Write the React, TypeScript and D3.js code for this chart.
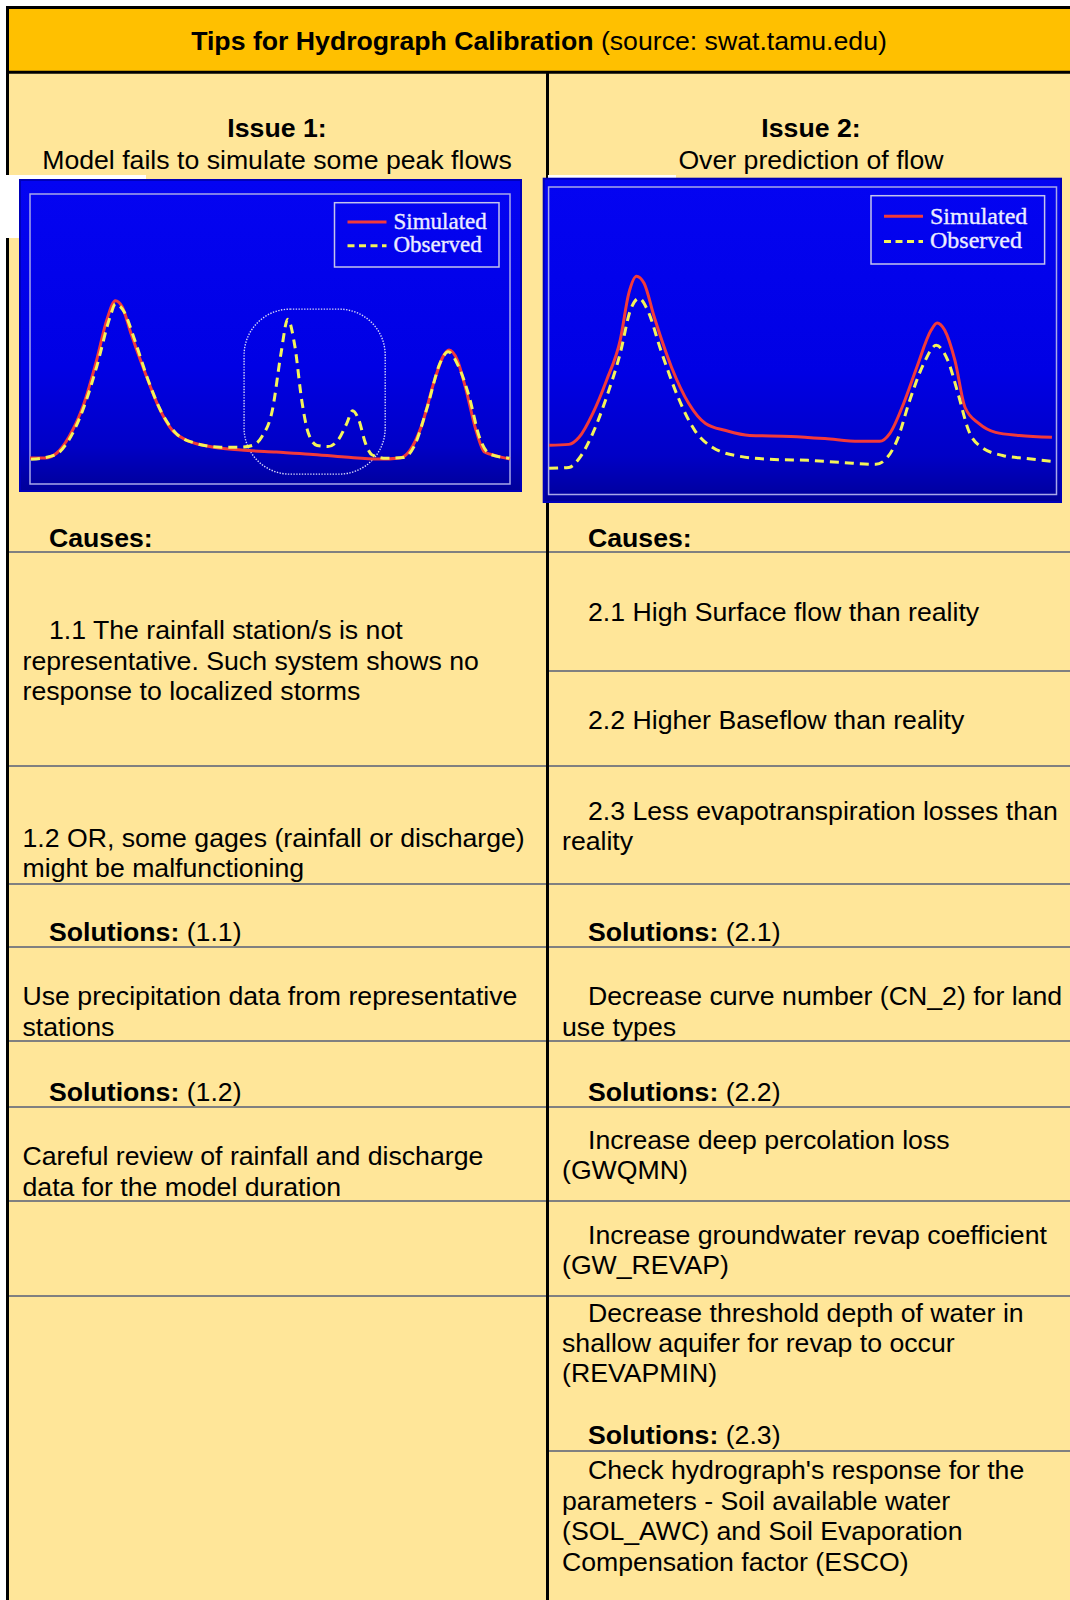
import React from "react";
import * as d3 from "d3";

// ---------- DATA ----------
// Issue 1 hydrograph (time 0-100, flow 0-100)
const issue1SimDay = [0, 3.1, 5.6, 8.1, 11.0, 13.9, 16.0, 17.8, 19.2, 21.0, 24.0, 26.8, 29.6, 32.5, 36.9, 44.0, 51.3, 58.3, 65.6, 72.7, 77.1, 79.2, 81.5, 84.3, 86.0, 87.3, 89.0, 90.7, 92.9, 94.7, 97.2, 100];
const issue1SimFlow = [9.0, 9.0, 10.7, 16.2, 26.6, 42.8, 56.6, 63.2, 61.1, 52.1, 38.3, 26.6, 18.6, 15.2, 13.1, 11.7, 11.0, 10.3, 9.3, 8.6, 9.0, 11.7, 19.7, 35.9, 43.8, 46.2, 42.8, 33.4, 18.6, 11.0, 9.7, 8.6];
const issue1ObsDay = [0.2, 5.2, 8.1, 11.0, 13.9, 16.7, 17.8, 19.6, 21.8, 24.6, 27.5, 30.4, 34.0, 39.7, 44.0, 46.5, 48.3, 50.5, 52.3, 53.7, 55.2, 56.6, 58.0, 59.8, 62.0, 64.2, 66.0, 67.2, 68.5, 69.9, 71.3, 74.2, 77.8, 80.0, 82.8, 85.4, 87.1, 89.3, 91.5, 93.6, 95.8, 99.9];
const issue1ObsFlow = [8.5, 10.0, 15.2, 25.5, 40.5, 57.7, 62.1, 59.4, 49.7, 35.9, 24.4, 17.5, 14.3, 12.7, 12.7, 13.4, 16.3, 25.5, 45.1, 56.8, 47.3, 29.0, 17.5, 13.3, 12.9, 15.2, 20.9, 25.3, 22.1, 14.0, 10.0, 8.9, 9.1, 12.9, 26.7, 41.6, 45.6, 40.5, 30.1, 16.3, 10.3, 8.9];

// Issue 2 hydrograph
const issue2SimDay = [0.1, 4.0, 6.0, 8.7, 11.4, 14.1, 15.8, 17.3, 18.8, 20.8, 24.2, 27.6, 30.9, 34.9, 39.6, 47.7, 54.4, 61.1, 65.2, 67.2, 69.9, 72.5, 75.3, 76.5, 78.0, 80.0, 82.0, 84.7, 88.0, 92.7, 99.1];
const issue2SimFlow = [16.0, 16.3, 18.6, 26.4, 37.1, 50.2, 65.5, 71.0, 68.7, 57.7, 41.4, 29.6, 23.1, 20.8, 19.2, 18.9, 18.2, 17.3, 17.3, 19.9, 29.6, 41.4, 53.4, 55.8, 53.4, 43.6, 28.3, 23.1, 20.2, 19.2, 18.6];
const issue2ObsDay = [0.1, 4.0, 6.0, 8.7, 11.4, 14.1, 16.1, 17.8, 19.5, 22.1, 25.5, 28.8, 32.3, 37.7, 44.4, 51.1, 57.8, 64.4, 66.5, 68.6, 71.1, 73.9, 76.3, 78.6, 80.6, 82.7, 85.3, 89.4, 94.1, 99.1];
const issue2ObsFlow = [8.5, 8.8, 11.7, 19.9, 31.6, 45.9, 59.9, 63.8, 59.9, 46.9, 31.6, 20.8, 15.3, 12.4, 11.4, 11.1, 10.4, 9.8, 11.7, 17.6, 30.6, 42.7, 48.5, 43.6, 32.9, 20.8, 15.3, 12.7, 11.7, 10.8];

// Highlight region for missed peaks (time/flow units)
const missedPeakDays = [44.6, 74.0];
const missedPeakFlows = [3.4, 60.3];

const legendLabels = ["Simulated", "Observed"];

// ---------- TEXT ----------
const titleBold = "Tips for Hydrograph Calibration";
const titleRest = " (source: swat.tamu.edu)";
const issueTitles = ["Issue 1:", "Issue 2:"];
const issueSubtitles = ["Model fails to simulate some peak flows", "Over prediction of flow"];

type Line = { t: string; indent: boolean; y: number; bold?: string };
const leftLines: Line[] = [
  { t: "", bold: "Causes:", indent: true, y: 547 },
  { t: "1.1 The rainfall station/s is not", indent: true, y: 638.5 },
  { t: "representative. Such system shows no", indent: false, y: 669.5 },
  { t: "response to localized storms", indent: false, y: 699.5 },
  { t: "1.2 OR, some gages (rainfall or discharge)", indent: false, y: 847 },
  { t: "might be malfunctioning", indent: false, y: 877 },
  { t: " (1.1)", bold: "Solutions:", indent: true, y: 941 },
  { t: "Use precipitation data from representative", indent: false, y: 1004.5 },
  { t: "stations", indent: false, y: 1035.5 },
  { t: " (1.2)", bold: "Solutions:", indent: true, y: 1101 },
  { t: "Careful review of rainfall and discharge", indent: false, y: 1164.5 },
  { t: "data for the model duration", indent: false, y: 1195.5 },
];
const rightLines: Line[] = [
  { t: "", bold: "Causes:", indent: true, y: 547 },
  { t: "2.1 High Surface flow than reality", indent: true, y: 621 },
  { t: "2.2 Higher Baseflow than reality", indent: true, y: 728.5 },
  { t: "2.3 Less evapotranspiration losses than", indent: true, y: 819.5 },
  { t: "reality", indent: false, y: 849.5 },
  { t: " (2.1)", bold: "Solutions:", indent: true, y: 941 },
  { t: "Decrease curve number (CN_2) for land", indent: true, y: 1004.5 },
  { t: "use types", indent: false, y: 1035.5 },
  { t: " (2.2)", bold: "Solutions:", indent: true, y: 1101 },
  { t: "Increase deep percolation loss", indent: true, y: 1148.5 },
  { t: "(GWQMN)", indent: false, y: 1178.5 },
  { t: "Increase groundwater revap coefficient", indent: true, y: 1243.5 },
  { t: "(GW_REVAP)", indent: false, y: 1273.5 },
  { t: "Decrease threshold depth of water in", indent: true, y: 1321.5 },
  { t: "shallow aquifer for revap to occur", indent: false, y: 1351.5 },
  { t: "(REVAPMIN)", indent: false, y: 1381.5 },
  { t: " (2.3)", bold: "Solutions:", indent: true, y: 1443.5 },
  { t: "Check hydrograph's response for the", indent: true, y: 1478.5 },
  { t: "parameters - Soil available water", indent: false, y: 1509.5 },
  { t: "(SOL_AWC) and Soil Evaporation", indent: false, y: 1540 },
  { t: "Compensation factor (ESCO)", indent: false, y: 1570.5 },
];
const leftRules = [552, 766, 884, 947, 1041, 1107, 1201, 1296];
const rightRules = [552, 671, 766, 884, 947, 1041, 1107, 1201, 1296, 1451];

const W = 1070;
const H = 1600;
const SANS = "'Liberation Sans', Arial, Helvetica, sans-serif";
const SERIF = "'Liberation Serif', 'Times New Roman', serif";
const FS = 26.67;

type Pt = [number, number];
const zip = (a: number[], b: number[]): Pt[] => a.map((v, i) => [v, b[i]]);

function Hydro(props: {
  id: string;
  bg: [number, number, number, number];
  frame: [number, number, number, number];
  legend: [number, number, number, number];
  legendFs: number;
  sim: Pt[];
  obs: Pt[];
  highlight?: boolean;
}) {
  const { id, bg, frame, legend, legendFs, sim, obs, highlight } = props;
  const [fx0, fy0, fx1, fy1] = frame;
  const x = d3.scaleLinear().domain([0, 100]).range([fx0, fx1]);
  const y = d3.scaleLinear().domain([0, 100]).range([fy1, fy0]);
  const line = d3
    .line<Pt>()
    .x((d) => x(d[0]))
    .y((d) => y(d[1]))
    .curve(d3.curveMonotoneX);
  const [lx0, ly0, lx1, ly1] = legend;
  const lh = ly1 - ly0;
  const row1 = ly0 + lh * 0.3;
  const row2 = ly0 + lh * 0.67;
  const sampleX0 = lx0 + 13;
  const sampleX1 = lx0 + 52;
  const textX = lx0 + 59;
  return (
    <g>
      <defs>
        <linearGradient id={id} x1="0" y1="0" x2="0" y2="1">
          <stop offset="0" stopColor="#0404f2" />
          <stop offset="0.6" stopColor="#0000e4" />
          <stop offset="0.86" stopColor="#0000c6" />
          <stop offset="1" stopColor="#00009a" />
        </linearGradient>
      </defs>
      <rect x={bg[0]} y={bg[1]} width={bg[2] - bg[0]} height={bg[3] - bg[1]} fill="#0000b8" />
      <rect x={bg[0] + 2} y={bg[1] + 2} width={bg[2] - bg[0] - 4} height={bg[3] - bg[1] - 4} fill={`url(#${id})`} />
      <rect x={fx0} y={fy0} width={fx1 - fx0} height={fy1 - fy0} fill="none" stroke="#a8a8e8" strokeWidth={1.5} />
      {highlight && (
        <rect
          x={x(missedPeakDays[0])}
          y={y(missedPeakFlows[1])}
          width={x(missedPeakDays[1]) - x(missedPeakDays[0])}
          height={y(missedPeakFlows[0]) - y(missedPeakFlows[1])}
          rx={46}
          ry={46}
          fill="none"
          stroke="#d8d8f8"
          strokeWidth={1.4}
          strokeDasharray="1.4 1.4"
        />
      )}
      <path d={line(sim) || ""} fill="none" stroke="#f23a3a" strokeWidth={3} strokeLinejoin="round" />
      <path d={line(obs) || ""} fill="none" stroke="#f4f458" strokeWidth={3} strokeDasharray="9 6" />
      <rect x={lx0} y={ly0} width={lx1 - lx0} height={ly1 - ly0} fill="none" stroke="#c4c4ec" strokeWidth={1.5} />
      <line x1={sampleX0} x2={sampleX1} y1={row1} y2={row1} stroke="#f23a3a" strokeWidth={3} />
      <line x1={sampleX0} x2={sampleX1} y1={row2} y2={row2} stroke="#f4f458" strokeWidth={3} strokeDasharray="7 4.5" />
      <g fontFamily={SERIF} fontSize={legendFs} fill="#ececff" stroke="#ececff" strokeWidth={0.35}>
        <text x={textX} y={row1 + legendFs * 0.32}>{legendLabels[0]}</text>
        <text x={textX} y={row2 + legendFs * 0.26}>{legendLabels[1]}</text>
      </g>
    </g>
  );
}

function Lines({ lines, xIndent, xPlain }: { lines: Line[]; xIndent: number; xPlain: number }) {
  return (
    <g fontFamily={SANS} fontSize={FS} fill="#000">
      {lines.map((l, i) => (
        <text key={i} x={l.indent ? xIndent : xPlain} y={l.y} style={{ whiteSpace: "pre" }}>
          {l.bold && <tspan fontWeight="bold">{l.bold}</tspan>}
          {l.t && <tspan>{l.t}</tspan>}
        </text>
      ))}
    </g>
  );
}

export default function App() {
  const divX = 547.5;
  return (
    <>
      <style>{`body{margin:0;background:#fff}`}</style>
      <svg width={W} height={H} viewBox={`0 0 ${W} ${H}`} style={{ display: "block" }}>
        {/* backgrounds */}
        <rect x={7} y={7} width={W - 7} height={66} fill="#FFC000" />
        <rect x={7} y={72} width={W - 7} height={H - 72} fill="#FFE699" />

        {/* gray rules */}
        {leftRules.map((r) => (
          <line key={"l" + r} x1={8} x2={divX} y1={r} y2={r} stroke="#808080" strokeWidth={2} />
        ))}
        {rightRules.map((r) => (
          <line key={"r" + r} x1={divX} x2={W} y1={r} y2={r} stroke="#808080" strokeWidth={2} />
        ))}

        {/* black borders */}
        <line x1={7.5} x2={7.5} y1={6} y2={H} stroke="#000" strokeWidth={3} />
        <line x1={6} x2={W} y1={7.5} y2={7.5} stroke="#000" strokeWidth={3} />
        <line x1={6} x2={W} y1={72.2} y2={72.2} stroke="#000" strokeWidth={3} />
        <line x1={divX} x2={divX} y1={72} y2={H} stroke="#000" strokeWidth={3} />

        {/* title */}
        <text x={539} y={50} textAnchor="middle" fontFamily={SANS} fontSize={FS} fill="#000" style={{ whiteSpace: "pre" }}>
          <tspan fontWeight="bold">{titleBold}</tspan>
          <tspan>{titleRest}</tspan>
        </text>

        {/* issue headings */}
        <g fontFamily={SANS} fontSize={FS} fill="#000" textAnchor="middle">
          <text x={277} y={137} fontWeight="bold">{issueTitles[0]}</text>
          <text x={277} y={169}>{issueSubtitles[0]}</text>
          <text x={811} y={137} fontWeight="bold">{issueTitles[1]}</text>
          <text x={811} y={169}>{issueSubtitles[1]}</text>
        </g>

        {/* white patches from pasted images */}
        <rect x={0} y={175} width={146} height={4} fill="#fff" />
        <rect x={0} y={175} width={19} height={63} fill="#fff" />
        <rect x={548} y={175} width={128} height={3} fill="#fff" />

        {/* charts */}
        <Hydro
          id="g1"
          bg={[19, 179, 522, 492]}
          frame={[30, 194, 510, 484]}
          legend={[334.5, 202.7, 499, 267]}
          legendFs={23}
          sim={zip(issue1SimDay, issue1SimFlow)}
          obs={zip(issue1ObsDay, issue1ObsFlow)}
          highlight
        />
        <Hydro
          id="g2"
          bg={[542.7, 177.7, 1062, 503]}
          frame={[548.6, 187, 1056.5, 494.5]}
          legend={[871, 195.7, 1044.6, 264]}
          legendFs={24}
          sim={zip(issue2SimDay, issue2SimFlow)}
          obs={zip(issue2ObsDay, issue2ObsFlow)}
        />

        {/* table text */}
        <Lines lines={leftLines} xIndent={49} xPlain={22.5} />
        <Lines lines={rightLines} xIndent={588} xPlain={562} />
      </svg>
    </>
  );
}
